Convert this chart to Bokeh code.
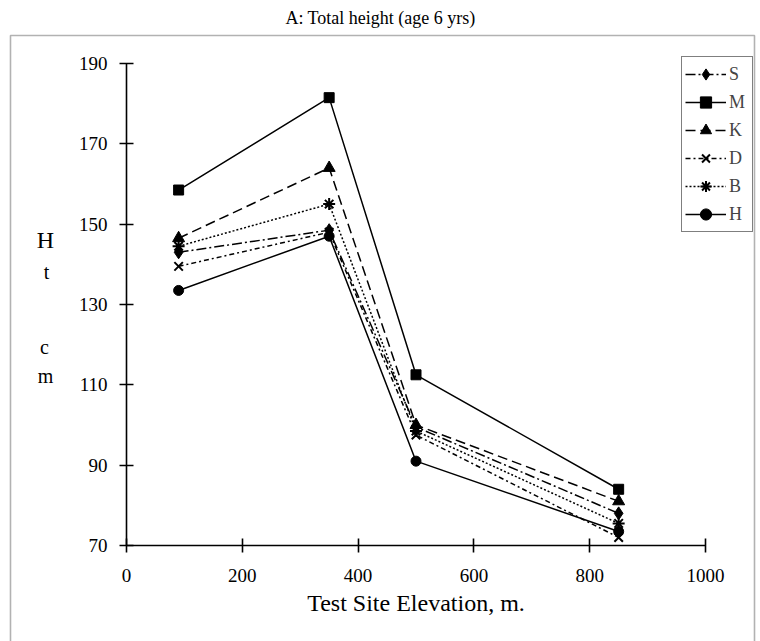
from bokeh.plotting import figure
from bokeh.models import Label, BoxAnnotation, Legend, LegendItem, FixedTicker
from bokeh.embed import file_html
from bokeh.resources import INLINE

# ---- data ----
elevation = [90, 350, 500, 850]
S = [143, 148.5, 99.5, 78]
M = [158.5, 181.5, 112.5, 84]
K = [146.5, 164, 100, 81]
D = [139.5, 148, 97.5, 72]
B = [144.5, 155, 98.5, 75.5]
H = [133.5, 147, 91, 73.5]
series_names = ["S", "M", "K", "D", "B", "H"]
x_ticks = [0, 200, 400, 600, 800, 1000]
y_ticks = [70, 90, 110, 130, 150, 170, 190]
title_text = "A: Total height (age 6 yrs)"
x_title = "Test Site Elevation, m."
y_title_letters = ["H", "t", "c", "m"]

FONT = "Liberation Serif"

W, HT = 760, 641
# pixel calibration (canvas pixels)
x0_px, x1000_px = 126.0, 705.0
y70_px, y190_px = 545.0, 63.0
ppx = (x1000_px - x0_px) / 1000.0
ppy = (y70_px - y190_px) / 120.0
x_start = -x0_px / ppx
x_end = (W - x0_px) / ppx
y_start = 70 - (HT - y70_px) / ppy
y_end = 190 + y190_px / ppy

p = figure(width=W, height=HT, output_backend="svg", toolbar_location=None,
           x_range=(x_start, x_end), y_range=(y_start, y_end),
           min_border=0, min_border_left=0, min_border_right=0,
           min_border_top=0, min_border_bottom=0)
p.outline_line_color = None
p.grid.visible = False
p.background_fill_color = "white"
p.border_fill_color = "white"


def dx(px):
    return (px - x0_px) / ppx


def dy(py):
    return 70 + (y70_px - py) / ppy


# axes drawn at fixed data locations inside the frame
xa, ya = p.xaxis[0], p.yaxis[0]
xa.fixed_location = 70
ya.fixed_location = 0
for ax in (xa, ya):
    ax.axis_line_color = "black"
    ax.axis_line_width = 1.6
    ax.major_tick_line_color = "black"
    ax.major_tick_line_width = 1.6
    ax.major_tick_in = 7
    ax.major_tick_out = 7
    ax.minor_tick_line_color = None
    ax.major_label_text_font = FONT
    ax.major_label_text_font_size = "19px"
    ax.major_label_text_color = "black"

xa.ticker = FixedTicker(ticks=x_ticks)
ya.ticker = FixedTicker(ticks=y_ticks)
xa.bounds = (0, 1000)
ya.bounds = (70, 190)
xa.major_label_standoff = 16
ya.major_label_standoff = 12
xa.axis_label = x_title
xa.axis_label_text_font = FONT
xa.axis_label_text_font_size = "24px"
xa.axis_label_text_font_style = "normal"
xa.axis_label_text_color = "black"
xa.axis_label_standoff = 5

# series
styles = {
    "S": dict(dash="10 3 2 3", marker="diamond", size=13),
    "M": dict(dash="solid", marker="square", size=10),
    "K": dict(dash="10 5", marker="triangle", size=12),
    "D": dict(dash="5 3 2 3", marker="x", size=12),
    "B": dict(dash="2 2", marker="asterisk", size=12),
    "H": dict(dash="solid", marker="circle", size=10),
}
values = {"S": S, "M": M, "K": K, "D": D, "B": B, "H": H}

items = []
for name in series_names:
    st = styles[name]
    ln = p.line(elevation, values[name], line_color="black", line_width=1.5,
                line_dash=st["dash"])
    sc = p.scatter(elevation, values[name], marker=st["marker"], size=st["size"],
                   fill_color="black", line_color="black",
                   line_width=2 if st["marker"] in ("x", "asterisk") else 1)
    items.append(LegendItem(label=name, renderers=[ln, sc]))

legend = Legend(items=items, location=(681, HT - 232), orientation="vertical",
                glyph_width=41, glyph_height=28, label_height=28, spacing=0,
                padding=3, margin=0, label_standoff=3,
                label_text_font=FONT, label_text_font_size="18px",
                border_line_color="black", border_line_width=1.3,
                background_fill_color="white", background_fill_alpha=1)
p.add_layout(legend, "center")

# outer frame
frame_box = BoxAnnotation(left=dx(10), right=dx(754), top=dy(35), bottom=dy(660),
                          fill_alpha=0, line_color="black", line_width=1.6,
                          level="underlay")
p.add_layout(frame_box)

# title
p.add_layout(Label(x=dx(380), y=dy(17), text=title_text, text_align="center",
                   text_baseline="middle", text_font=FONT, text_font_size="18px",
                   text_color="black"))

# vertical y title letters
y_pos = [(45, 239, "24px"), (46, 271, "20px"), (44, 346, "20px"), (45, 375, "20px")]
for letter, (xx, yy, fs) in zip(y_title_letters, y_pos):
    p.add_layout(Label(x=dx(xx), y=dy(yy), text=letter, text_align="center",
                       text_baseline="middle", text_font=FONT, text_font_size=fs,
                       text_color="black"))

open("out.html", "w").write(file_html(p, INLINE))
